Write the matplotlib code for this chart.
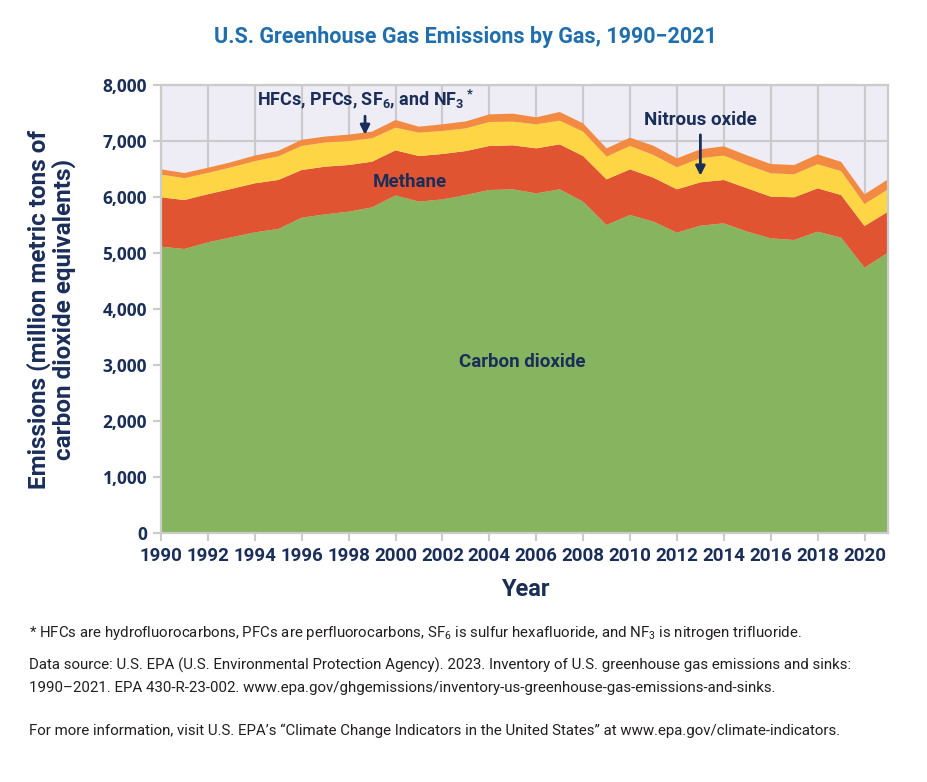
import matplotlib
matplotlib.use("Agg")
import matplotlib.pyplot as plt
from matplotlib.ticker import FuncFormatter

# U.S. greenhouse gas emissions by gas (million metric tons CO2 eq.)
years = list(range(1990, 2022))
carbon_dioxide = [5113, 5071, 5191, 5280, 5369, 5429, 5631, 5690, 5738, 5815,
                  6030, 5917, 5958, 6036, 6125, 6137, 6065, 6137, 5917, 5500,
                  5679, 5560, 5363, 5488, 5530, 5381, 5262, 5232, 5381, 5274,
                  4738, 5006]
methane = [881, 875, 859, 865, 875, 875, 851, 852, 833, 816,
           803, 815, 810, 785, 786, 786, 804, 803, 815, 815,
           815, 785, 774, 774, 774, 774, 744, 762, 774, 762,
           744, 732]
nitrous_oxide = [406, 390, 380, 385, 396, 420, 430, 430, 428, 417,
                 405, 417, 411, 405, 428, 422, 429, 423, 435, 405,
                 417, 405, 393, 430, 435, 416, 417, 411, 430, 425,
                 393, 399]
hfc_pfc_sf6_nf3 = [94, 92, 92, 93, 100, 100, 110, 107, 115, 119,
                   137, 107, 119, 124, 137, 143, 125, 155, 148, 149,
                   149, 165, 160, 160, 166, 170, 166, 166, 175, 167,
                   173, 178]

xtick_years = list(range(1990, 2021, 2))
ytick_values = list(range(0, 8001, 1000))

green = "#87B45E"
red = "#E05431"
yellow = "#FED645"
orange = "#F38A42"
navy = "#1B2E5A"
title_blue = "#1F6EAD"
grid_gray = "#CBCBCB"

plt.rcParams["mathtext.default"] = "regular"
narrow = ["Roboto", "DejaVu Sans"]
wide = ["Open Sans", "DejaVu Sans"]

W, H = 928, 782
fig = plt.figure(figsize=(W / 100, H / 100), dpi=100)
ax = fig.add_axes([161 / W, 1 - 533 / H, (888 - 161) / W, (533 - 85) / H])

ax.stackplot(years, carbon_dioxide, methane, nitrous_oxide, hfc_pfc_sf6_nf3,
             colors=[green, red, yellow, orange], linewidth=0, zorder=2)
ax.set_facecolor("#EEEDF6")
ax.set_xlim(1990, 2021)
ax.set_ylim(0, 8000)
ax.set_xticks(xtick_years)
ax.set_yticks(ytick_values)
ax.yaxis.set_major_formatter(FuncFormatter(lambda v, p: f"{int(v):,}"))
ax.grid(True, color=grid_gray, linewidth=1.6, zorder=1)
ax.set_axisbelow(True)
for s in ax.spines.values():
  s.set_color(grid_gray)
  s.set_linewidth(1.6)
ax.tick_params(color=grid_gray, length=6, width=1.5, labelcolor=navy, pad=4)
for lab in ax.get_xticklabels():
  lab.set_fontfamily(narrow)
  lab.set_fontweight("bold")
  lab.set_fontsize(13.5)
for lab in ax.get_yticklabels():
  lab.set_fontfamily(wide)
  lab.set_fontweight("bold")
  lab.set_fontsize(12.5)

def px(x, y):
  return x / W, 1 - y / H

fig.text(*px(465, 37), "U.S. Greenhouse Gas Emissions by Gas, 1990\u22122021",
         ha="center", va="center", color=title_blue, fontsize=15.5,
         fontweight="bold", family=narrow)
fig.text(*px(51, 309), "Emissions (million metric tons of\ncarbon dioxide equivalents)",
         rotation=90, ha="center", va="center", color=navy, fontsize=17.5,
         fontweight="bold", family=narrow, linespacing=1.05)
fig.text(*px(525, 590), "Year", ha="center", va="center", color=navy,
         fontsize=17, fontweight="bold", family=narrow)

lab_kw = dict(ha="center", va="center", color=navy, fontsize=13.5,
              fontweight="bold", family=narrow, zorder=5)
ax.text(2005.4, 3050, "Carbon dioxide", **lab_kw)
ax.text(2000.6, 6270, "Methane", **lab_kw)
arrow = dict(arrowstyle="-|>", color=navy, lw=2, shrinkA=2, shrinkB=0,
             mutation_scale=14)
ax.annotate("Nitrous oxide", xy=(2013.0, 6380), xytext=(2013.0, 7370),
            arrowprops=arrow, **lab_kw)
ax.annotate("HFCs, PFCs, SF$_6$, and NF$_3{}^*$", xy=(1998.7, 7110),
            xytext=(1998.7, 7750), arrowprops=arrow,
            **dict(lab_kw, fontsize=13))

note_kw = dict(ha="left", va="center", color="#231F20", fontsize=10.8, family=narrow)
fig.text(*px(29, 633), "* HFCs are hydrofluorocarbons, PFCs are perfluorocarbons, SF$_6$ is sulfur "
         "hexafluoride, and NF$_3$ is nitrogen trifluoride.", **note_kw)
fig.text(*px(29, 665), "Data source: U.S. EPA (U.S. Environmental Protection Agency). 2023. "
         "Inventory of U.S. greenhouse gas emissions and sinks:", **note_kw)
fig.text(*px(29, 688), "1990\u20132021. EPA 430-R-23-002. "
         "www.epa.gov/ghgemissions/inventory-us-greenhouse-gas-emissions-and-sinks.", **note_kw)
fig.text(*px(29, 731), "For more information, visit U.S. EPA\u2019s \u201cClimate Change Indicators "
         "in the United States\u201d at www.epa.gov/climate-indicators.", **note_kw)

fig.savefig("out.png", dpi=100, facecolor="white")
